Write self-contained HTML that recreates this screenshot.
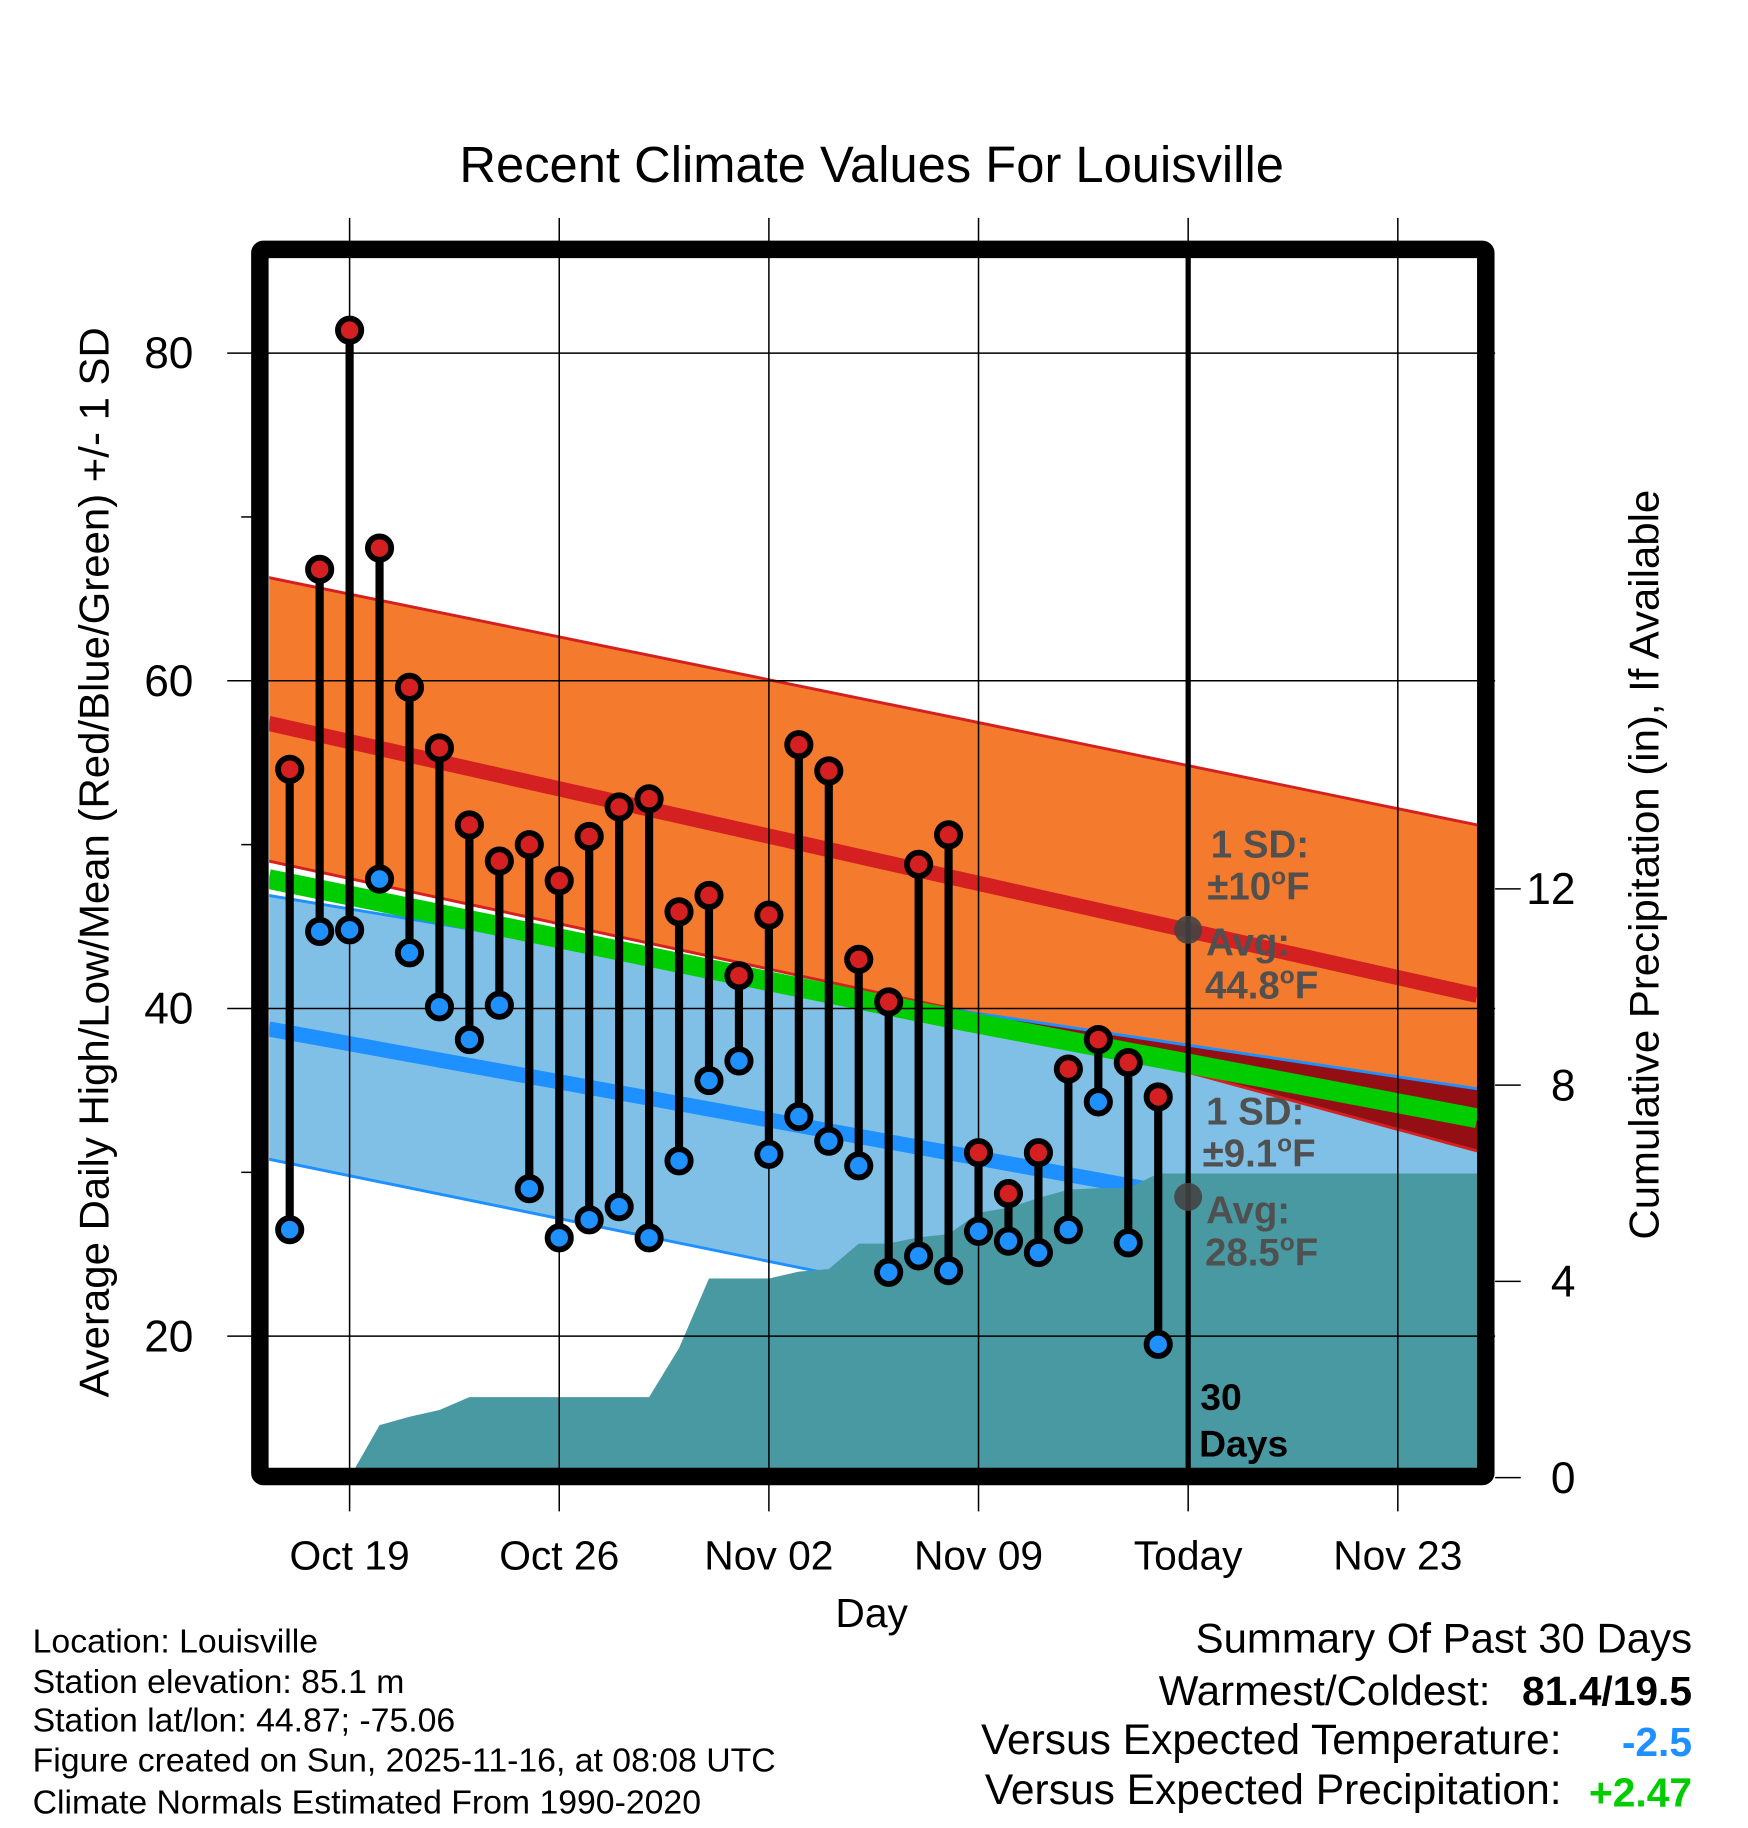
<!DOCTYPE html>
<html><head><meta charset="utf-8"><style>
html,body{margin:0;padding:0;background:#fff}
svg{display:block}
text{font-family:"Liberation Sans",sans-serif}
</style></head><body>
<svg id="chart" width="1748" height="1828" viewBox="0 0 1500 1568.65" xmlns="http://www.w3.org/2000/svg">
<text x="748" y="156" font-size="43.5" text-anchor="middle">Recent Climate Values For Louisville</text>
<g id="plot"></g>
</svg>
<script>
// ---- data ----
const days = ["Oct 17","Oct 18","Oct 19","Oct 20","Oct 21","Oct 22","Oct 23","Oct 24","Oct 25","Oct 26","Oct 27","Oct 28","Oct 29","Oct 30","Oct 31","Nov 01","Nov 02","Nov 03","Nov 04","Nov 05","Nov 06","Nov 07","Nov 08","Nov 09","Nov 10","Nov 11","Nov 12","Nov 13","Nov 14","Nov 15"];
const highs = [54.6,66.8,81.4,68.1,59.6,55.9,51.2,49.0,50.0,47.8,50.5,52.3,52.8,45.9,46.9,42.0,45.7,56.1,54.5,43.0,40.4,48.8,50.6,31.2,28.7,31.2,36.3,38.1,36.7,34.6];
const lows = [26.5,44.7,44.8,47.9,43.4,40.1,38.1,40.2,29.0,26.0,27.1,27.9,26.0,30.7,35.6,36.8,31.1,33.4,31.9,30.4,23.9,24.9,24.0,26.4,25.8,25.1,26.5,34.3,25.7,19.5];
const precip = [0,0,0,1.07,1.24,1.38,1.64,1.64,1.64,1.64,1.64,1.64,1.64,2.64,4.06,4.06,4.06,4.2,4.25,4.77,4.77,4.9,4.96,5.4,5.5,5.7,5.87,5.9,5.9,6.2];
// normals at day positions of normDays (left edge, mid, right edge)
const normDays = [-0.7, 22.6, 39.65];
const highTop = [66.3,57.6,51.2];
const highMean = [57.4,47.8,40.8];
const highBot = [49.0,39.8,31.3];
const lowTop = [46.9,39.8,35.1];
const lowMean = [38.75,31.0,25.3];
const lowBot = [30.8,22.1,15.8];
const meanLine = [47.9,39.2,33.3];
const xTickLabels = ["Oct 19","Oct 26","Nov 02","Nov 09","Today","Nov 23"];
const xTickDays = [2,9,16,23,30,37];
const yTicks = [20,40,60,80];
const yMinor = [30,50,70];
const pTicks = [0,4,8,12];

// ---- axes ----
const L=231,R=1268,T=221,B=1260;
const X0=248.6, DX=25.7;
const xd = d => X0 + DX*d;
const yt = t => 303 + (80 - t)*14.06;
const yp = p => 1268 - p*42.1;
const NS="http://www.w3.org/2000/svg";
const g=document.getElementById('plot');
function mk(tag,attrs,parent){const e=document.createElementNS(NS,tag);for(const k in attrs)e.setAttribute(k,attrs[k]);(parent||g).appendChild(e);return e;}
const defs=mk('defs',{});
const cp=mk('clipPath',{id:'clip'},defs);mk('rect',{x:L,y:T,width:R-L,height:B-T},cp);
const pg=mk('g',{'clip-path':'url(#clip)'});
function ptsOf(a){return normDays.map((d,i)=>`${xd(d)},${yt(a[i])}`);}
function band(a,b,fill,name){
  const p=ptsOf(a).concat(ptsOf(b).reverse());
  const e=mk('polygon',{points:p.join(' '),fill:fill},pg);
  
  
}
function line(a,color,w,name){
  const e=mk('polyline',{points:ptsOf(a).join(' '),stroke:color,'stroke-width':w,fill:'none'},pg);
  
  
}
band(lowTop,lowBot,'#80c0e6','low-sd-band');
band(highTop,highBot,'#f47a2e','high-sd-band');
{
  const ov=highBot.map((v,i)=>Math.min(v,lowTop[i]));
  band(lowTop,ov,'#940f14','sd-overlap');
}
line(highTop,'#d42020',2.5,'high-sd-top-line');
line(highBot,'#d42020',2.5,'high-sd-bottom-line');
line(lowTop,'#1e90ff',2.5,'low-sd-top-line');
line(lowBot,'#1e90ff',2.5,'low-sd-bottom-line');
line(highMean,'#d42020',13,'normal-high-line');
line(lowMean,'#1e90ff',13,'normal-low-line');
line(meanLine,'#00cc00',17,'normal-mean-line');
// precipitation area
{
  let pts=[];
  let first=precip.findIndex(v=>v>0)-1;
  pts.push(`${xd(first)},${B+10}`);
  for(let i=first;i<precip.length;i++) pts.push(`${xd(i)},${yp(precip[i])}`);
  pts.push(`${R},${yp(precip[precip.length-1])}`,`${R},${B+10}`);
  const e=mk('polygon',{points:pts.join(' '),fill:'#4899a1'},pg);
  
  
}
// gridlines
xTickDays.forEach((d,i)=>{
  const e=mk('line',{x1:xd(d),y1:187,x2:xd(d),y2:1297,stroke:'#000','stroke-width':1.3});
  
  
  const t=mk('text',{x:xd(d),y:1347,'font-size':35,'text-anchor':'middle'});t.textContent=xTickLabels[i];
  
  
});
yTicks.forEach(v=>{
  const e=mk('line',{x1:195,y1:yt(v),x2:1283,y2:yt(v),stroke:'#000','stroke-width':1.3});
  
  
  const t=mk('text',{x:166,y:yt(v)+13,'font-size':38,'text-anchor':'end'});t.textContent=v;
  
  
});
yMinor.forEach(v=>{
  const e=mk('line',{x1:207,y1:yt(v),x2:216,y2:yt(v),stroke:'#000','stroke-width':1.3});
  
  
});
pTicks.forEach(v=>{
  const e=mk('line',{x1:1283,y1:yp(v),x2:1305,y2:yp(v),stroke:'#000','stroke-width':1.3});
  
  
  const t=mk('text',{x:1352,y:yp(v)+13,'font-size':38,'text-anchor':'end'});t.textContent=v;
  
  
});
// today line
{const e=mk('line',{x1:xd(30),y1:T,x2:xd(30),y2:B,stroke:'#000','stroke-width':4.5});

}
// annotations
function txt(x,y,s,size,fill,name,extra){const t=mk('text',Object.assign({x:x,y:y,'font-size':size,fill:fill,'font-weight':'bold'},extra||{}));t.innerHTML=s;return t;}
{const c=mk('circle',{cx:xd(30),cy:yt(44.8),r:12,fill:'#444','fill-opacity':0.9});}
{const c=mk('circle',{cx:xd(30),cy:yt(28.5),r:12,fill:'#444','fill-opacity':0.9});}
const deg='<tspan dy="-13" font-size="21">o</tspan><tspan dy="13">F</tspan>';
txt(1039,736,'1 SD:',33,'#505050','high-sd-label');
txt(1036,772,'±10'+deg,33,'#505050','high-sd-value');
txt(1035,820,'Avg:',33,'#505050','high-avg-label');
txt(1034,857,'44.8'+deg,33,'#505050','high-avg-value');
txt(1035,965,'1 SD:',33,'#505050','low-sd-label');
txt(1032,1001,'±9.1'+deg,33,'#505050','low-sd-value');
txt(1035,1050,'Avg:',33,'#505050','low-avg-label');
txt(1034,1086,'28.5'+deg,33,'#505050','low-avg-value');
txt(1030,1210,'30',32,'#000','days-count');
txt(1029,1250,'Days',32,'#000','days-label');
// stems and markers
days.forEach((d,i)=>{
  const x=xd(i);
  const s=mk('line',{x1:x,y1:yt(highs[i]),x2:x,y2:yt(lows[i]),stroke:'#000','stroke-width':7});
  
  
  const h=mk('circle',{cx:x,cy:yt(highs[i]),r:10,fill:'#d42020',stroke:'#000','stroke-width':5});
  
  
  const l=mk('circle',{cx:x,cy:yt(lows[i]),r:10,fill:'#1e90ff',stroke:'#000','stroke-width':5});
  
  
});
// frame
{const f=mk('rect',{x:223,y:214,width:1052,height:1053,fill:'none',stroke:'#000','stroke-width':15,rx:3});

}
// axis titles
txt(0,0,'Average Daily High/Low/Mean (Red/Blue/Green) +/- 1 SD',36,'#000','y-axis-title',{transform:'translate(93,740) rotate(-90)','text-anchor':'middle','font-weight':'normal'});
txt(0,0,'Cumulative Precipitation (in), If Available',36,'#000','precip-axis-title',{transform:'translate(1423,742) rotate(-90)','text-anchor':'middle','font-weight':'normal'});
txt(748,1396,'Day',35,'#000','x-axis-title',{'text-anchor':'middle','font-weight':'normal'});
// info text
const info=["Location: Louisville","Station elevation: 85.1 m","Station lat/lon: 44.87; -75.06","Figure created on Sun, 2025-11-16, at 08:08 UTC","Climate Normals Estimated From 1990-2020"];
const infoY=[1418,1453,1486,1520,1556];
info.forEach((s,i)=>{const t=mk('text',{x:28,y:infoY[i],'font-size':29});t.textContent=s;});
txt(1452,1418,'Summary Of Past 30 Days',36,'#000','summary-title',{'text-anchor':'end','font-weight':'normal'});
txt(1279,1463,'Warmest/Coldest:',36,'#000','warmest-coldest-label',{'text-anchor':'end','font-weight':'normal'});
txt(1452,1463,'81.4/19.5',35,'#000','warmest-coldest-value',{'text-anchor':'end'});
txt(1340,1505,'Versus Expected Temperature:',36.5,'#000','temp-anomaly-label',{'text-anchor':'end','font-weight':'normal'});
txt(1452,1507,'-2.5',35,'#1e90ff','temp-anomaly-value',{'text-anchor':'end'});
txt(1340,1548,'Versus Expected Precipitation:',36.5,'#000','precip-anomaly-label',{'text-anchor':'end','font-weight':'normal'});
txt(1452,1550,'+2.47',35,'#00cc00','precip-anomaly-value',{'text-anchor':'end'});
</script>
</body></html>
